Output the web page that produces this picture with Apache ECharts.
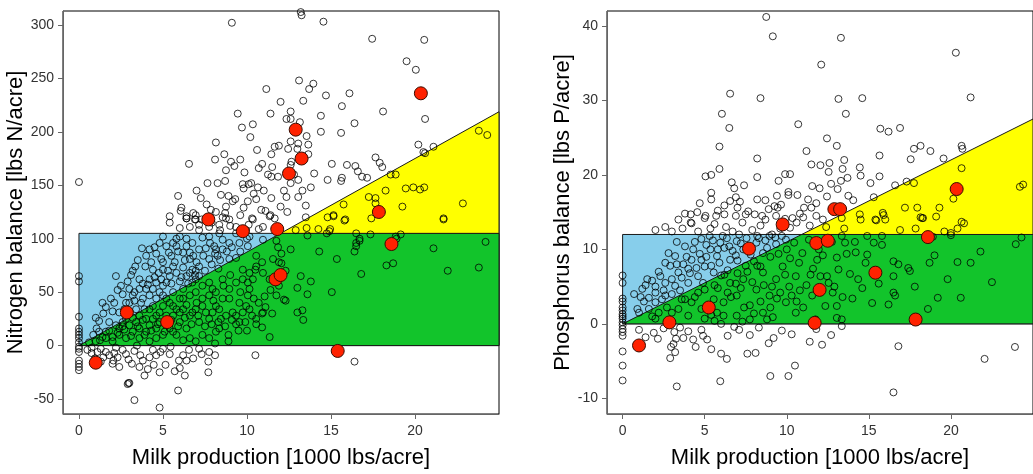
<!DOCTYPE html>
<html>
<head>
<meta charset="utf-8">
<title>Nutrient balance vs milk production</title>
<script src="https://cdn.jsdelivr.net/npm/echarts@6/dist/echarts.min.js"></script>
<style>
  html, body { margin: 0; padding: 0; background: #fff; }
  #chart { width: 1033px; height: 474px; }
</style>
</head>
<body>
<div id="chart"></div>
<script>
// tick labels
const milkTicks = [0, 5, 10, 15, 20]
const nitrogenTicks = [-50, 0, 50, 100, 150, 200, 250, 300]
const phosphorusTicks = [-10, 0, 10, 20, 30, 40]

// target zones, [milk, balance] vertices
const nitrogenBlue = [[0, 0], [0, 105], [25, 105], [25, 0]]
const nitrogenGreen = [[0, 0], [12, 105], [25, 105], [25, 0]]
const nitrogenYellow = [[12, 105], [25, 218.75], [25, 105]]
const phosphorusBlue = [[0, 0], [0, 12], [25, 12], [25, 0]]
const phosphorusGreen = [[0, 0], [10.91, 12], [25, 12], [25, 0]]
const phosphorusYellow = [[10.91, 12], [25, 27.5], [25, 12]]

// highlighted farms (same farms in both panels)
const nitrogenHighlight = [
  [1.0, -16], [2.85, 31], [5.25, 22], [7.7, 118], [9.75, 107], [11.7, 62], [11.8, 109], [12.0, 66],
  [12.5, 161], [12.9, 202], [13.25, 175], [15.4, -5], [17.85, 125], [18.6, 95], [20.35, 236]
]
const phosphorusHighlight = [
  [1.0, -2.9], [2.85, 0.2], [5.25, 2.2], [7.7, 10.1], [9.75, 13.35], [11.7, 0.13], [11.8, 10.85], [12.0, 4.56],
  [12.5, 11.16], [12.9, 15.4], [13.25, 15.4], [15.4, 6.87], [17.85, 0.58], [18.6, 11.65], [20.35, 18.1]
]

// all farms, nitrogen balance
const nitrogenFarms = [
  [9.1,302],[13.25,309],[13.2,312],[14.55,303],[17.45,287],[20.55,286],[19.5,266],[20.05,258],[0,153],[13.1,248],
  [13.95,245],[13.7,240],[11.15,240],[13.35,229],[14.7,234],[16.1,236],[12.0,228],[15.65,224],[18.1,219],[20.6,212],
  [9.45,217],[11.4,217],[12.6,219],[12.35,212],[12.6,212],[13.15,209],[14.4,215],[16.4,208],[9.7,204],[10.35,207],
  [10.2,195],[14.4,200],[15.6,199],[13.55,196],[8.15,190],[11.65,186],[11.9,187],[10.6,183],[11.45,179],[12.6,191],
  [13.05,189],[13.65,188],[12.45,184],[13.65,179],[13.0,184],[8.65,179],[8.1,174],[9.6,174],[6.55,170],[9.05,172],
  [9.25,168],[8.75,164],[9.85,162],[10.7,166],[11.5,167],[11.25,160],[11.45,158],[11.85,158],[12.65,172],[12.6,169],
  [14.0,161],[15.05,170],[15.95,169],[16.45,168],[16.6,163],[16.85,158],[17.15,157],[17.65,176],[17.9,171],[18.05,167],
  [20.2,188],[21.1,186],[20.5,181],[20.6,180],[15.65,157],[15.6,154],[14.8,155],[7.65,152],[8.25,152],[8.7,154],
  [9.75,151],[10.1,151],[10.25,152],[10.65,148],[9.8,147],[11.45,138],[12.0,130],[12.35,139],[13.05,139],[13.8,148],
  [13.3,145],[12.6,152],[13.05,155],[5.9,140],[7.25,138],[8.45,141],[6.1,129],[6.05,126],[6.95,122],[6.4,121],
  [7.6,132],[7.85,127],[8.15,125],[8.75,130],[9.15,135],[9.3,137],[10.05,135],[10.55,137],[10.85,127],[11.4,122],
  [11.65,119],[12.4,125],[13.5,131],[10.3,119],[8.75,119],[6.4,119],[6.9,118],[8.7,124],
  [23.8,201],[24.3,197],[18.25,145],[19.45,147],[19.9,148],[20.3,146],[20.55,148],[18.55,160],[18.85,160],[17.25,139],
  [17.65,138],[17.65,133],[19.25,130],[22.85,133],[15.75,132],[21.7,119],[17.4,119],[15.15,122],[14.8,120],[15.85,118],
  [13.5,120],
  [12.9,108],[13.55,110],[13.6,103],[14.25,109],[14.95,109],[14.9,107],[14.75,105],[15.8,117],[15.15,121],[16.5,105],
  [16.7,100],[16.5,96],[17.35,104],[19.15,104],[18.85,102],[21.1,91],[24.2,97],[21.95,70],[23.8,73],[18.3,75],
  [18.7,77],[16.8,67],[16.4,88],[14.3,88],[15.35,81],[21.7,118],[15.05,50],[13.8,60],[13.6,48],[13.0,54],
  [13.2,65],[13.3,33],[13.35,24],[13.0,31],[12.3,42],[12.2,43],[11.35,8],[12.05,86],[11.9,78],[12.05,77],
  [11.75,98],[11.85,92],[11.05,46],[11.4,52],[10.9,17],[10.9,30],[10.55,20],[10.0,14],[10.9,78],[10.55,84],
  [10.35,62],[10.5,71],[10.05,59],[10.05,47],[9.75,31],[9.55,22],[9.35,20],[8.9,10],[8.9,4],[8.1,2],
  [8.1,-9],[7.75,-6],[7.7,-15],[7.7,-25],[10.5,-9],[16.4,-15],[6.3,-28],[5.9,-42],[4.8,-58],[3.3,-51],
  [2.95,-35],[2.9,-36],[3.0,-35],[4.1,-22],[4.8,-25],[5.15,-18],[4.45,-18],[5.95,-14],[6.0,-21],[6.4,-14],
  [7.15,-3],[6.55,-4],[5.45,-1],[4.85,-6],[4.4,-4],[3.8,-14],[3.65,-9],[3.15,-17],[2.95,-13],[2.05,-14],
  [2.0,-17],[1.6,-6],[1.1,-6],[0.75,-2],[0.75,-7],[0.95,-12],[1.45,-11],[2.1,-7],[2.6,-4],[3.45,0],
  [0,65],[0,60],[0,27],[0,16],[0,13],[0,10],[0,7],[0,3],[0,-1],[0,-3],[0,-6],[0,-14],[0,-17],[0,-20],[0,-23],
  [3.75,91],[4.5,92],[5.35,87],[5.5,84],[5.8,100],[6.0,102],[6.4,100],[6.4,93],[6.6,87],[7.15,108],
  [7.35,101],[7.55,91],[8.05,93],[8.55,90],[8.95,96],[9.55,96],[10.05,93],[4.9,81],[5.0,78],[4.75,68],
  [3.95,74],[3.35,74],[3.1,66],[3.8,58],[3.3,50],[2.6,48],[2.2,65],[2.0,32],[1.45,30],[1.2,23],
  [1.05,16],[2.1,40],[2.8,40],[4.2,47],[4.4,53],[5.0,56],[5.4,65],[5.8,68],[6.2,73],[6.75,71],
  [6.95,70],[7.15,74],[6.6,81],[7.75,81],[8.25,84],[8.95,81],[9.35,82],[6.0,60],[5.5,58],[5.0,47],
  [4.6,44],[3.7,40],[3.9,34],
  [3.0,31],[3.6,28],[4.4,25],[4.8,31],[5.6,28],[6.0,22],[6.4,16],[6.75,31],[7.15,22],[7.35,37],
  [7.75,25],[8.15,37],[8.35,16],[8.45,25],[8.95,44],[9.15,31],[9.55,40],[9.95,37],[6.95,50],[7.35,56],
  [7.75,59],[8.15,50],[8.55,62],[8.95,53],[9.35,59],[9.75,62],[10.15,53],[9.75,71],[10.15,68],[10.55,74],
  [10.95,68],[11.35,62],[11.55,81],[11.75,47],[7.35,10],[6.6,7],[5.8,10],[5.4,16],[5.0,10],[4.6,7],
  [4.0,13],[3.6,7],[3.2,13],[2.8,7],[2.4,10],[2.0,8],[1.6,7],[1.25,5],[2.2,19],[2.6,22],
  [3.4,22],[4.0,25],[4.2,34],[5.0,37],[5.6,37],[6.2,44],[6.6,47],[6.2,53],[7.75,47],[8.55,44],
  [8.75,28],[8.15,13],[9.35,28],[10.15,34],[10.95,31],[10.55,25],[7.75,7],[6.95,4],[6.2,5],[4.2,4],[2.0,4],
  [4.4,37],[3.8,44],[3.0,40],[3.2,47],[3.4,34],[4.0,53],[4.8,50],[5.2,44],[5.6,50],[6.0,44],
  [6.2,34],[6.6,28],[5.4,40],[4.8,22],[2.8,25],[2.4,31],[1.8,22],[1.6,13],[1.2,13],[0.85,10],
  [2.4,16],[3.0,19],[3.6,16],[4.2,19],[4.6,16],[5.2,19],[5.6,13],[6.0,31],[6.95,34],[7.55,31],
  [7.95,31],[8.35,34],[7.35,44],[7.95,53],[6.75,59],[6.4,65],[5.6,74],[5.0,71],[4.4,71],[4.2,62],
  [3.6,62],[4.6,59],[5.2,59],[6.95,62],[7.15,65],[6.6,68],[6.2,87],[5.8,93],[7.15,90],[8.15,90],
  [8.55,99],[9.35,105],[10.15,102],[10.95,99],[8.35,105],[7.75,102],[6.75,96],[5.0,102],[4.2,90],
  [5.4,121],[5.4,115],[6.4,119],[6.95,118],[6.6,111],[7.15,113],[7.75,111],[8.35,113],[8.95,118],[9.35,111],
  [9.95,108],[10.35,118],[10.95,111],[11.35,121],[8.55,120],[16.5,93],[16.7,98],[18.9,100],
  [2.5,56],[2.9,60],[3.2,70],[3.5,80],[4.0,84],[4.3,78],[4.6,86],[4.8,96],[5.2,93],[5.6,96],
  [5.9,88],[6.3,80],[6.8,84],[7.0,78],[7.4,84],[7.8,96],[8.1,86],[8.4,80],[8.8,88],[9.1,92],
  [9.6,88],[10.0,100],[3.0,53],[3.6,53],[4.1,57],[4.5,64],[4.9,62],[5.3,70],[5.7,78],[6.1,64],
  [6.5,58],[6.9,66],[7.5,70],[7.9,76],[8.3,72],[1.6,36],[1.9,44],[2.3,52],[2.7,34],[3.3,42],
  [1.0,26],[1.4,40],
  [2.3,12],[2.7,15],[3.1,9],[3.5,18],[3.9,10],[4.3,14],[4.7,20],[5.1,13],[5.5,24],[5.9,18],
  [6.3,26],[6.7,20],[7.1,28],[7.5,18],[7.9,20],[8.3,22],[8.7,18],[9.1,24],[9.5,14],[9.9,22],
  [10.3,28],[10.7,40],[11.1,36],[11.5,30],[11.9,56],[12.3,70],[12.6,90],[9.0,66],[9.6,50],[10.4,44],
  [8.6,56],[8.0,42],[7.0,40],[6.4,38],[5.8,34],[5.2,28],[4.6,28],[3.8,24],[3.2,26],[2.6,18],
  [1.8,14],[1.4,8],[1.0,4],[0.6,3],
  [0.5,-4],[1.3,-3],[1.8,-9],[2.3,-11],[2.8,-8],[3.3,-5],[3.6,-20],[4.2,-11],[4.6,-9],[5.0,-3],
  [5.4,-8],[5.7,-24],[6.2,-9],[6.8,-12],[7.3,-8],[2.4,-20],[1.3,-15],[2.2,-2],[3.9,-28],
  [6.0,110],[6.8,124],[7.3,118],[7.9,115],[8.4,108],[9.0,112],[9.6,122],[10.1,113],[10.7,109],[11.1,126],
  [9.8,129],[8.9,140],[7.0,145],[10.4,142],[11.0,145],[12.2,145],[12.8,160],[10.9,170]
]

// all farms, phosphorus balance
const phosphorusFarms = [
  [8.75,41.2],[9.15,38.6],[13.3,38.4],[20.3,36.4],[12.1,34.8],[6.55,30.9],[8.4,30.3],[13.15,30.2],[14.6,30.3],[21.2,30.4],
  [6.05,28.2],[6.5,26.3],[13.6,28.2],[10.7,26.8],[15.7,26.2],[16.2,25.8],[16.9,26.3],[5.9,23.8],[8.2,22.2],[12.45,24.9],
  [13.05,23.9],[11.2,23.2],[17.75,23.5],[18.15,23.9],[18.75,23.2],[19.55,22.2],[20.65,23.9],[20.7,23.5],[15.65,22.6],[17.55,22.1],
  [5.9,20.8],[5.05,19.8],[5.4,20.0],[6.65,19.0],[8.2,19.7],[9.9,20.1],[10.2,20.1],[9.5,19.2],[11.5,21.4],[12.05,21.3],
  [12.6,21.6],[13.4,20.8],[13.5,22.0],[12.55,20.4],[13.3,19.2],[13.7,19.6],[14.45,21.0],[14.5,19.9],[15.65,19.8],[15.1,18.9],
  [12.7,18.8],[11.55,18.5],[12.0,18.2],[13.1,18.1],[5.4,17.6],[5.4,16.7],[6.55,16.5],[6.9,17.0],[7.15,16.4],[6.2,15.9],
  [8.2,16.7],[8.7,16.6],[9.25,15.8],[9.65,16.0],[10.1,17.3],[10.65,17.3],[10.1,17.7],[11.3,16.7],[11.8,16.2],[11.05,15.6],
  [11.5,15.6],[12.45,17.1],[13.75,17.2],[14.05,16.6],[15.3,17.0],[16.6,18.6],[17.3,19.1],[17.75,18.9],[4.15,14.7],[4.55,15.0],
  [5.05,14.5],[5.7,14.5],[6.2,14.7],[6.9,14.5],[7.65,15.1],[7.5,14.7],[8.05,14.7],[8.5,14.5],[8.9,15.4],[9.45,15.6],
  [9.35,14.5],[10.35,14.2],[10.8,14.8],[11.0,14.3],[11.8,14.5],[4.15,13.6],[5.0,14.2],
  [17.2,15.6],[17.95,15.6],[19.3,15.6],[15.85,14.9],[18.15,14.3],[18.3,14.2],[14.45,14.7],[15.4,14.0],[16.0,14.0],[13.35,14.2],
  [20.65,20.9],[20.15,16.8],[24.2,18.4],[24.4,18.7],[20.65,13.7],
  [0,6.5],[0,5.5],[0,3.4],[0,3.0],[0,2.2],[0,1.8],[0,1.3],[0,1.0],[0,0.7],[0,0.2],[0,-0.2],[0,-0.7],[0,-1.1],[0,-1.6],
  [0,-3.7],[0,-5.6],[0,-7.6],
  [2.9,-4.6],[3.3,-8.4],[5.95,-7.7],[9.0,-7.0],[10.1,-7.0],[10.5,-5.6],[6.35,-4.7],[7.6,-4.0],[8.1,-3.9],[6.0,-4.0],
  [11.4,-2.4],[12.15,-2.8],[16.8,-3.0],[16.5,-9.2],[22.05,-4.7],[23.9,-3.1],[13.35,-0.3],[8.9,-2.6],[9.2,-1.9],[7.75,-1.5],
  [6.8,-0.4],[6.4,-1.6],[5.15,-2.1],[4.45,-3.1],[4.3,-2.1],[3.25,-2.0],[3.1,-2.7],[2.95,-3.1],[2.15,-2.0],[1.4,-1.8],
  [3.15,-1.1],[4.0,-1.0],[4.8,-0.8],[6.0,0.0],[3.5,-0.5],
  [1.2,4.7],[0.7,4.0],[0.9,2.0],[1.6,2.0],[2.0,2.9],[2.0,4.2],[2.6,5.5],[2.6,8.2],[3.2,9.1],[3.65,12.8],
  [3.8,10.4],[4.2,8.6],[4.2,13.5],[4.8,11.4],[5.35,12.8],[5.35,10.0],[5.75,9.1],[5.95,10.9],[6.35,11.5],[6.55,8.6],
  [4.6,6.4],[4.0,5.5],[3.4,6.9],[3.0,6.0],[5.0,7.7],[5.55,6.9],[6.95,11.1],[7.35,10.0],[7.55,11.5],[8.15,10.9],
  [8.55,9.5],[8.95,11.8],[9.35,10.7],[9.95,11.3],[10.45,10.9],[3.8,3.3],[2.2,1.5],[1.6,3.5],[1.0,1.5],[2.4,3.3],[3.2,5.1],
  [3.6,3.3],[4.2,2.9],[4.6,4.2],[5.0,4.6],[5.55,3.3],[5.75,1.5],[6.15,2.9],[6.55,5.5],[6.95,3.8],[7.35,6.0],
  [7.75,2.5],[8.15,4.6],[8.55,6.9],[8.95,3.8],[9.35,6.0],[9.75,7.7],[9.95,2.9],[10.15,5.0],[10.55,6.4],[10.55,1.5],
  [10.75,8.2],[10.95,9.5],[11.35,11.3],[11.45,6.6],[11.55,3.8],[11.85,8.6],[12.35,2.4],[12.45,6.4],[12.55,5.5],[13.05,0.8],
  [13.05,8.9],[13.15,7.3],[13.65,9.4],[13.85,6.7],[14.35,6.0],[14.8,8.2],[14.9,9.3],[15.3,10.9],[15.8,10.6],[16.5,4.2],
  [16.6,3.8],[16.5,8.4],[16.8,8.0],[17.4,7.5],[17.5,7.1],[18.6,2.0],[18.7,8.2],[19.0,9.2],[19.2,3.5],[20.4,8.3],
  [20.6,3.5],[21.2,8.2],[21.8,9.7],[23.95,10.7],[24.3,11.6],[18.9,11.7],[20.0,11.9],[19.6,12.4],[16.5,6.4],[13.55,10.9],
  [14.15,11.0],[14.9,11.8],[15.8,11.8],[12.75,11.0],[13.35,11.8],[11.95,10.0],[12.05,6.4],[13.05,2.4],[11.75,0.6],[13.35,0.6],
  [9.15,0.9],[7.75,0.6],[8.55,1.5],[6.95,1.1],[6.15,1.1],[5.0,0.7],[4.0,1.1],[3.0,1.5],[2.0,0.7],
  [13.5,12.8],[14.5,14.0],[15.45,13.9],[16.9,12.6],[17.85,12.8],[18.25,14.2],[20.0,12.2],[20.4,12.8],[20.8,13.5],[19.1,14.4],[15.9,14.6],
  [1.5,6.0],[2.2,7.0],[2.8,9.5],[3.3,11.0],[3.7,8.0],[4.3,10.0],[4.5,7.5],[5.1,9.0],[5.3,11.8],[5.9,8.2],
  [6.2,10.2],[6.7,9.8],[7.1,12.0],[7.8,9.3],[8.3,11.5],[8.8,10.2],[9.1,12.0],[9.7,11.8],[2.5,4.5],[3.5,4.5],
  [4.1,6.8],[4.9,5.5],[5.4,7.8],[6.0,6.5],[6.4,7.2],[7.0,8.5],[7.5,7.8],[8.0,8.4],[8.4,7.7],[9.0,9.0],
  [9.5,9.4],[10.0,10.0],[1.3,3.0],[1.8,1.0],[2.7,2.2],[3.4,2.0],[4.4,3.6],[5.2,2.5],[5.8,4.8],[6.6,3.6],
  [7.2,4.8],[7.9,5.6],[8.4,3.0],[9.1,5.0],[9.6,4.2],[10.3,3.8],[10.8,4.5],[11.0,2.2],[5.6,0.4],[7.3,0.3],
  [8.8,0.6],[12.8,4.2],[14.0,3.4],[14.6,4.8],[15.2,2.8],[17.8,5.0],[19.8,6.0],[22.5,5.6],
  [1.1,3.6],[1.4,5.2],[1.8,5.8],[2.3,6.4],[2.6,3.8],[2.9,7.8],[3.3,8.0],[3.6,6.2],[3.9,9.0],[4.4,11.0],
  [4.7,9.4],[5.1,10.6],[5.5,11.2],[5.8,10.0],[6.1,11.8],[6.5,10.4],[6.9,9.2],[7.2,10.8],[7.7,10.2],[8.2,11.8],
  [8.7,11.2],[9.3,11.6],[4.0,7.4],[4.8,8.6],[2.0,5.0],[3.0,4.0],
  [2.0,12.6],[2.6,13.0],[3.0,12.4],[3.4,14.0],[4.6,12.4],[5.6,13.4],[6.3,13.0],[6.7,12.4],[7.3,13.6],[7.9,12.6],
  [8.4,13.2],[9.6,12.8],[10.2,12.9],[10.6,13.6],[11.4,13.2],[12.2,14.0],[12.4,13.0],[9.9,14.1],[8.7,14.0],[7.0,15.6],
  [5.8,15.2],[3.8,14.8],[4.7,16.2],[6.8,18.2],[7.4,18.6],[9.4,17.2],
  [4.8,2.0],[5.4,1.2],[6.4,4.2],[6.9,5.4],[7.4,2.2],[8.0,1.4],[8.6,5.2],[9.0,2.2],[9.4,3.4],[9.9,6.6],
  [10.2,8.8],[10.6,3.0],[11.2,5.2],[11.6,7.4],[12.2,9.2],[12.9,5.0],[13.4,3.6],[14.2,9.6],[15.6,5.4],[16.2,2.6],
  [7.0,6.8],[7.6,7.0],[8.2,7.8],[5.6,5.2],[6.2,6.6],
  [1.0,-0.8],[1.9,-1.2],[2.5,-0.6],[3.7,-1.9],[4.9,-1.6],[5.4,-3.4],[7.1,-0.8],[8.3,-0.5],[9.7,-0.9],[10.3,-1.4],
  [11.8,-0.7],[12.7,-1.5],[3.2,-3.8]
]

const font = "'Liberation Sans', Arial, sans-serif"
const chart = echarts.init(document.getElementById('chart'), null, { renderer: 'canvas' })

function zone(idx, pts, color) {
  return {
    type: 'custom',
    xAxisIndex: idx,
    yAxisIndex: idx,
    silent: true,
    z: 1,
    data: [pts[0]],
    renderItem(params, api) {
      return {
        type: 'polygon',
        shape: { points: pts.map(p => api.coord(p)) },
        style: { fill: color, stroke: '#1a1a1a', lineWidth: 1 }
      }
    }
  }
}

function farms(idx, data) {
  return {
    type: 'scatter',
    xAxisIndex: idx,
    yAxisIndex: idx,
    silent: true,
    z: 3,
    symbolSize: 7,
    data: data,
    itemStyle: { color: 'rgba(0,0,0,0)', borderColor: 'rgba(0,0,0,0.78)', borderWidth: 1, opacity: 1 }
  }
}

function highlight(idx, data) {
  return {
    type: 'scatter',
    xAxisIndex: idx,
    yAxisIndex: idx,
    silent: true,
    z: 4,
    symbolSize: 13,
    data: data,
    itemStyle: { color: '#ff2200', borderColor: '#3a0c00', borderWidth: 1, opacity: 1 }
  }
}

function xAxis(idx) {
  return {
    gridIndex: idx,
    type: 'value',
    min: -0.95,
    max: 25,
    name: 'Milk production [1000 lbs/acre]',
    nameLocation: 'middle',
    nameGap: 33,
    nameTextStyle: { fontFamily: font, fontSize: 22, color: '#000' },
    axisLine: { show: true, onZero: false, lineStyle: { color: '#666' } },
    axisTick: { show: true, length: 5, customValues: milkTicks, lineStyle: { color: '#666' } },
    axisLabel: { customValues: milkTicks, margin: 10, fontFamily: font, fontSize: 14, color: '#333' },
    splitLine: { show: false }
  }
}

function yAxis(idx, name, min, max, ticks) {
  return {
    gridIndex: idx,
    type: 'value',
    min: min,
    max: max,
    name: name,
    nameLocation: 'middle',
    nameGap: 32,
    nameTextStyle: { fontFamily: font, fontSize: 22, color: '#000' },
    axisLine: { show: true, onZero: false, lineStyle: { color: '#666' } },
    axisTick: { show: true, length: 5, customValues: ticks, lineStyle: { color: '#666' } },
    axisLabel: { customValues: ticks, margin: 9, fontFamily: font, fontSize: 14, color: '#333' },
    splitLine: { show: false }
  }
}

chart.setOption({
  animation: false,
  backgroundColor: '#fff',
  grid: [
    { left: 63, top: 11, width: 436, height: 407, show: true, borderColor: '#000', borderWidth: 1 },
    { left: 607, top: 11, width: 435, height: 407, show: true, borderColor: '#000', borderWidth: 1 }
  ],
  xAxis: [xAxis(0), xAxis(1)],
  yAxis: [
    yAxis(0, 'Nitrogen balance [lbs N/acre]', -64, 313, nitrogenTicks),
    yAxis(1, 'Phosphorus balance [lbs P/acre]', -12.1, 42, phosphorusTicks)
  ],
  series: [
    zone(0, nitrogenBlue, '#87ceeb'),
    zone(0, nitrogenGreen, '#12c42b'),
    zone(0, nitrogenYellow, '#ffff00'),
    zone(1, phosphorusBlue, '#87ceeb'),
    zone(1, phosphorusGreen, '#12c42b'),
    zone(1, phosphorusYellow, '#ffff00'),
    farms(0, nitrogenFarms),
    farms(1, phosphorusFarms),
    highlight(0, nitrogenHighlight),
    highlight(1, phosphorusHighlight)
  ]
})
</script>
</body>
</html>
